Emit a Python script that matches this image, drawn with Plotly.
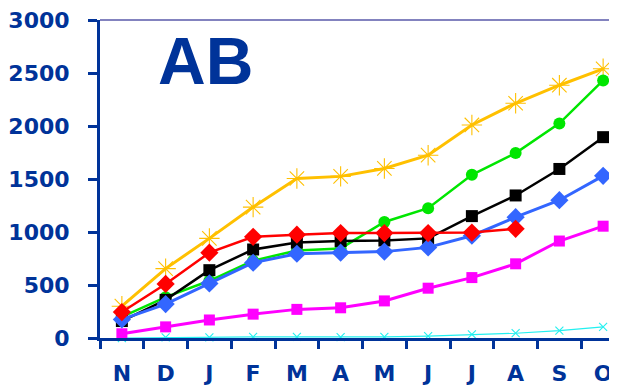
import plotly.graph_objects as go

months = ["N", "D", "J", "F", "M", "A", "M ", "J ", "J  ", "A ", "S", "O"]

yellow = [300, 655, 940, 1235, 1505, 1525, 1600, 1725, 2010, 2215, 2385, 2540]
green = [200, 385, 540, 730, 825, 845, 1095, 1225, 1540, 1745, 2025, 2430]
black = [160, 360, 640, 835, 900, 915, 920, 940, 1150, 1345, 1595, 1895]
blue = [175, 320, 515, 710, 795, 805, 815, 855, 965, 1140, 1300, 1530]
red = [245, 510, 805, 955, 975, 990, 990, 990, 995, 1030]
magenta = [40, 105, 170, 225, 270, 285, 350, 470, 570, 700, 915, 1055]
cyan = [0, 5, 5, 10, 10, 8, 10, 18, 35, 45, 70, 105]

x_lbl = ["N", "D", "J", "F", "M", "A", "M", "J", "J", "A", "S", "O"]

DARK = "#003399"
FONT = dict(family="DejaVu Sans", size=22, color=DARK, weight="bold")

series = [
    ("cyan", cyan, "#22F0F0", 1.2, "x-thin-open", 8),
    ("magenta", magenta, "#FF00FF", 3, "square", 11),
    ("yellow", yellow, "#FFC000", 3, "asterisk-open", 17),
    ("green", green, "#00E600", 2.5, "circle", 12),
    ("black", black, "#000000", 2.5, "square", 12),
    ("blue", blue, "#3366FF", 3, "diamond", 14),
    ("red", red, "#FF0000", 2.5, "diamond", 14),
]

fig = go.Figure()
for name, vals, col, lw, sym, sz in series:
    fig.add_trace(
        go.Scatter(
            x=months[: len(vals)],
            y=vals,
            mode="lines+markers",
            name=name,
            line=dict(color=col, width=lw),
            marker=dict(symbol=sym, size=sz, color=col,
                        line=dict(color=col, width=1.1 if "open" in sym else 0)),
            cliponaxis=False,
        )
    )

fig.add_annotation(
    text="AB", x=0.20, y=0.87, xref="paper", yref="paper",
    showarrow=False, xanchor="center", yanchor="middle",
    font=dict(family="Liberation Sans", size=66, color=DARK, weight="bold"),
)
fig.add_shape(type="line", xref="paper", yref="paper", x0=0, x1=1, y0=1, y1=1,
              line=dict(color="#5A5AAA", width=1.5))

fig.update_layout(
    width=617,
    height=386,
    margin=dict(l=92, r=0, t=8, b=56),
    paper_bgcolor="white",
    plot_bgcolor="white",
    showlegend=False,
    xaxis=dict(
        type="category",
        range=[-0.5, 11.5],
        tickmode="array",
        tickvals=months,
        ticktext=x_lbl,
        tickson="boundaries",
        ticks="outside",
        ticklen=8,
        tickwidth=3,
        tickcolor=DARK,
        showline=True,
        linecolor=DARK,
        linewidth=3,
        showgrid=False,
        zeroline=False,
        tickfont=FONT,
        ticklabelstandoff=14,
    ),
    yaxis=dict(
        range=[0, 3000.5],
        tickvals=[0, 500, 1000, 1500, 2000, 2500, 3000],
        ticks="outside",
        ticklen=9,
        tickwidth=3,
        tickcolor=DARK,
        showline=True,
        linecolor=DARK,
        linewidth=3,
        showgrid=False,
        zeroline=False,
        tickfont=FONT,
        ticklabelstandoff=14,
        ticklabeloverflow="allow",
    ),
)

fig.write_html("out.html")
